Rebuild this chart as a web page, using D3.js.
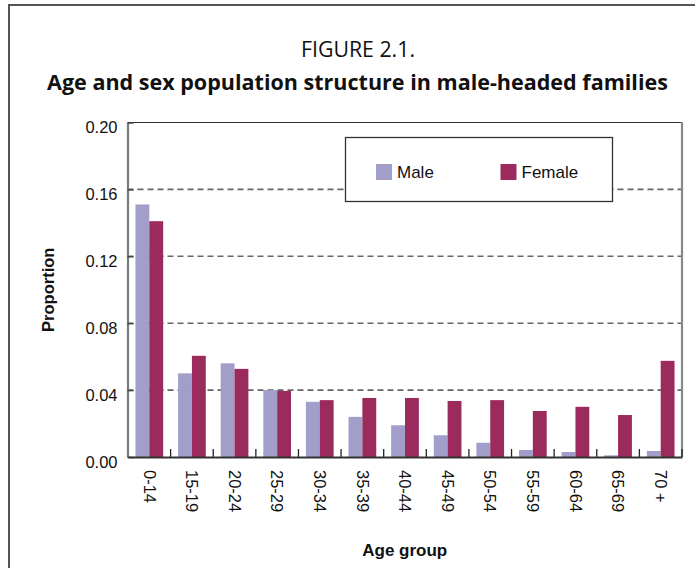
<!DOCTYPE html>
<html><head><meta charset="utf-8">
<script src="https://cdn.jsdelivr.net/npm/d3@7/dist/d3.min.js"></script>
<style>
html,body{margin:0;padding:0;background:#fff;}
svg{display:block;}
text{font-family:"Liberation Sans",Arial,sans-serif;}
</style></head>
<body>
<svg id="chart" width="695" height="568"></svg>
<script>
const categories = ["0-14","15-19","20-24","25-29","30-34","35-39","40-44","45-49","50-54","55-59","60-64","65-69","70 +"];
const maleValues   = [0.151,0.050,0.056,0.040,0.033,0.024,0.019,0.013,0.0085,0.0042,0.003,0.001,0.0036];
const femaleValues = [0.141,0.0605,0.0527,0.0395,0.034,0.0353,0.0353,0.0335,0.034,0.0275,0.030,0.0251,0.0575];
const seriesNames = ["Male","Female"];
const yTicks = [0,0.04,0.08,0.12,0.16,0.20];
const titleLine1 = "FIGURE 2.1.";
const titleLine2 = "Age and sex population structure in male-headed families";
const yLabel = "Proportion";
const xLabel = "Age group";

const colors = {Male:"#a19fc9", Female:"#9c2b5d"};
const svg = d3.select("#chart");
const W = 695, H = 568;
const m = {left:127.5, right:682, top:122.5, bottom:457};

// outer frame
svg.append("path").attr("d",`M9,${H} L9,5 L${W},5`).attr("fill","none")
  .attr("stroke","#555").attr("stroke-width",2);

// titles
const t1 = svg.append("text").attr("x",358).attr("y",57).attr("text-anchor","middle")
  .style("font-family","'Open Sans','Noto Sans',sans-serif").style("font-size","20px")
  .attr("fill","#111").text(titleLine1);
const w1 = t1.node().getComputedTextLength();
t1.style("font-size", (20*114/w1).toFixed(2)+"px");
const t2 = svg.append("text").attr("x",357.5).attr("y",90).attr("text-anchor","middle")
  .style("font-family","'Open Sans','Noto Sans',sans-serif").style("font-weight","bold").style("font-size","19px")
  .attr("fill","#111").text(titleLine2);
const w0 = t2.node().getComputedTextLength();
t2.style("font-size", (19*621/w0).toFixed(2)+"px");

const x = d3.scaleBand().domain(categories).range([m.left+0.5, m.right]).paddingInner(0).paddingOuter(0);
const bw = x.bandwidth();
const x1 = d3.scaleBand().domain(seriesNames).range([bw*0.175, bw*0.825]).padding(0);
const y = d3.scaleLinear().domain([0,0.20]).range([m.bottom, m.top]);

// gridlines
svg.append("g").selectAll("line").data(yTicks.filter(d=>d>0 && d<0.2)).join("line")
  .attr("x1",m.left).attr("x2",m.right).attr("y1",d=>y(d)).attr("y2",d=>y(d))
  .attr("stroke","#666").attr("stroke-width",1.6).attr("stroke-dasharray","6,4");

// top border
svg.append("line").attr("x1",m.left).attr("x2",m.right).attr("y1",m.top).attr("y2",m.top)
  .attr("stroke","#333").attr("stroke-width",1.2);

// bars
const data = categories.map((c,i)=>({cat:c, Male:maleValues[i], Female:femaleValues[i]}));
const groups = svg.append("g").selectAll("g").data(data).join("g")
  .attr("transform",d=>`translate(${x(d.cat)},0)`);
groups.selectAll("rect").data(d=>seriesNames.map(s=>({s, v:d[s]}))).join("rect")
  .attr("x",d=>x1(d.s)).attr("width",x1.bandwidth())
  .attr("y",d=>y(d.v)).attr("height",d=>m.bottom-y(d.v))
  .attr("fill",d=>colors[d.s]);

// right border
svg.append("line").attr("x1",m.right).attr("x2",m.right).attr("y1",m.top-0.5).attr("y2",m.bottom)
  .attr("stroke","#888").attr("stroke-width",2.2);

// y axis
const yAxis = d3.axisLeft(y).tickValues(yTicks).tickFormat(d3.format(".2f"))
  .tickSizeInner(-6).tickSizeOuter(0).tickPadding(10);
const gy = svg.append("g").attr("transform",`translate(${m.left},0)`).call(yAxis);
gy.select(".domain").attr("stroke","#7a7a7a").attr("stroke-width",2.2);
gy.selectAll(".tick line").attr("stroke","#444").attr("stroke-width",1.5);
gy.selectAll(".tick text").style("font-size","16.5px").attr("fill","#111").attr("dy","0.62em")
  .style("font-family","'Liberation Sans',Arial,sans-serif");

// x axis: boundary ticks
const boundaries = categories.slice(1).map(c=>x(c)).concat([x(categories[categories.length-1])+bw]);
svg.append("g").selectAll("line").data(boundaries).join("line")
  .attr("x1",d=>d).attr("x2",d=>d).attr("y1",m.bottom-8).attr("y2",m.bottom)
  .attr("stroke","#222").attr("stroke-width",1.3);
const xAxis = d3.axisBottom(x).tickSize(0).tickPadding(0);
const gx = svg.append("g").attr("transform",`translate(0,${m.bottom})`).call(xAxis);
gx.select(".domain").attr("stroke","#333").attr("stroke-width",2);
gx.selectAll(".tick text").style("font-size","16.5px").attr("fill","#111")
  .style("font-family","'Liberation Sans',Arial,sans-serif")
  .attr("transform","rotate(90)").attr("text-anchor","start")
  .attr("x",13).attr("y",0).attr("dy","0.35em");

// axis titles
svg.append("text").attr("transform",`translate(54,${(m.top+m.bottom)/2}) rotate(-90)`)
  .attr("text-anchor","middle").style("font-weight","bold").style("font-size","16.5px")
  .attr("fill","#111").text(yLabel);
svg.append("text").attr("x",(m.left+m.right)/2).attr("y",556).attr("text-anchor","middle")
  .style("font-weight","bold").style("font-size","17px").attr("fill","#111").text(xLabel);

// legend
const lg = svg.append("g");
lg.append("rect").attr("x",345.5).attr("y",137.5).attr("width",267).attr("height",64)
  .attr("fill","#fff").attr("stroke","#333").attr("stroke-width",1.3);
const legendX = [376, 500.5];
seriesNames.forEach((s,i)=>{
  lg.append("rect").attr("x",legendX[i]).attr("y",164).attr("width",16).attr("height",16).attr("fill",colors[s]);
  lg.append("text").attr("x",legendX[i]+21).attr("y",178).style("font-size","17px").attr("fill","#111").text(s);
});
</script>
</body></html>
